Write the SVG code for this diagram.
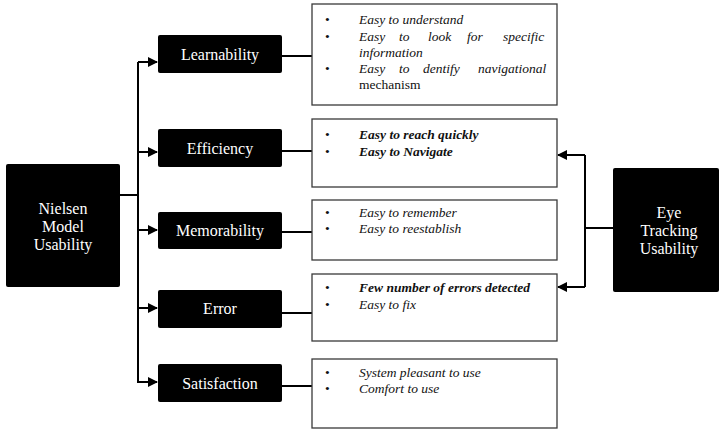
<svg xmlns="http://www.w3.org/2000/svg" width="719" height="431" viewBox="0 0 719 431">
<style>
.blk{fill:#000}
.lbl{font-size:16px;fill:#fff;text-anchor:middle}
.desc{fill:#fff;stroke:#3a3a3a;stroke-width:1.3}
.t{font-size:13.5px;fill:#111}
.i{font-style:italic}
.bi{font-style:italic;font-weight:bold}
.ln{fill:none;stroke:#000;stroke-width:2}
</style>
<defs>
<marker id="ah" markerWidth="10" markerHeight="10" refX="9" refY="5" orient="auto" markerUnits="userSpaceOnUse">
<path d="M0,0 L10,5 L0,10 Z" fill="#000"/>
</marker>
</defs>
<g id="connectors">
<path class="ln" d="M120,195 H138"/>
<path class="ln" d="M138,62 V383"/>
<path class="ln" d="M138,62 H157" marker-end="url(#ah)"/>
<path class="ln" d="M138,152 H157" marker-end="url(#ah)"/>
<path class="ln" d="M138,230 H157" marker-end="url(#ah)"/>
<path class="ln" d="M138,308 H157" marker-end="url(#ah)"/>
<path class="ln" d="M138,382 H157" marker-end="url(#ah)"/>
<path class="ln" d="M282,56 H312"/>
<path class="ln" d="M282,151 H312"/>
<path class="ln" d="M282,232 H312"/>
<path class="ln" d="M282,313 H312"/>
<path class="ln" d="M282,386 H312"/>
<path class="ln" d="M613,228 H585"/>
<path class="ln" d="M585,155 V287"/>
<path class="ln" d="M585,155 H558" marker-end="url(#ah)"/>
<path class="ln" d="M585,287 H558" marker-end="url(#ah)"/>
</g>
<g font-family="Liberation Serif, serif">
<g id="nielsen">
<rect class="blk" x="6" y="164" width="114" height="123" rx="2"/>
<text class="lbl" x="63" y="214">Nielsen</text>
<text class="lbl" x="63" y="232">Model</text>
<text class="lbl" x="63" y="250">Usability</text>
</g>
<g id="eye-tracking">
<rect class="blk" x="613" y="168" width="106" height="124" rx="2"/>
<text class="lbl" x="669" y="218">Eye</text>
<text class="lbl" x="669" y="236">Tracking</text>
<text class="lbl" x="669" y="254">Usability</text>
</g>
<g id="learnability">
<rect class="blk" x="158" y="35" width="124" height="38" rx="2"/>
<text class="lbl" x="220" y="60">Learnability</text>
</g>
<g id="efficiency">
<rect class="blk" x="158" y="129" width="124" height="38" rx="2"/>
<text class="lbl" x="220" y="154">Efficiency</text>
</g>
<g id="memorability">
<rect class="blk" x="158" y="212" width="124" height="37" rx="2"/>
<text class="lbl" x="220" y="236">Memorability</text>
</g>
<g id="error">
<rect class="blk" x="158" y="290" width="124" height="38" rx="2"/>
<text class="lbl" x="220" y="314">Error</text>
</g>
<g id="satisfaction">
<rect class="blk" x="158" y="364" width="124" height="38" rx="2"/>
<text class="lbl" x="220" y="389">Satisfaction</text>
</g>
<g id="learnability-desc">
<rect class="desc" x="312" y="4" width="245" height="101"/>
<text class="t" x="325" y="24">•</text>
<text class="t" x="325" y="41">•</text>
<text class="t" x="325" y="73">•</text>
<text class="t i" x="359" y="24">Easy to understand</text>
<text class="t i" y="41"><tspan x="359">Easy</tspan><tspan x="399">to</tspan><tspan x="428">look</tspan><tspan x="467">for</tspan><tspan x="503">specific</tspan></text>
<text class="t i" x="359" y="57">information</text>
<text class="t i" y="73"><tspan x="359">Easy</tspan><tspan x="399">to</tspan><tspan x="423">dentify</tspan><tspan x="478">navigational</tspan></text>
<text class="t" x="359" y="89">mechanism</text>
</g>
<g id="efficiency-desc">
<rect class="desc" x="312" y="119" width="245" height="68"/>
<text class="t" x="325" y="139">•</text>
<text class="t" x="325" y="156">•</text>
<text class="t bi" x="359" y="139">Easy to reach quickly</text>
<text class="t bi" x="359" y="156">Easy to Navigate</text>
</g>
<g id="memorability-desc">
<rect class="desc" x="312" y="200" width="245" height="60"/>
<text class="t" x="325" y="217">•</text>
<text class="t" x="325" y="233">•</text>
<text class="t i" x="359" y="217">Easy to remember</text>
<text class="t i" x="359" y="233">Easy to reestablish</text>
</g>
<g id="error-desc">
<rect class="desc" x="312" y="274" width="245" height="67"/>
<text class="t" x="325" y="292">•</text>
<text class="t" x="325" y="309">•</text>
<text class="t bi" x="359" y="292">Few number of errors detected</text>
<text class="t i" x="359" y="309">Easy to fix</text>
</g>
<g id="satisfaction-desc">
<rect class="desc" x="312" y="359" width="245" height="69"/>
<text class="t" x="325" y="377">•</text>
<text class="t" x="325" y="393">•</text>
<text class="t i" x="359" y="377">System pleasant to use</text>
<text class="t i" x="359" y="393">Comfort to use</text>
</g>
</g>
</svg>
